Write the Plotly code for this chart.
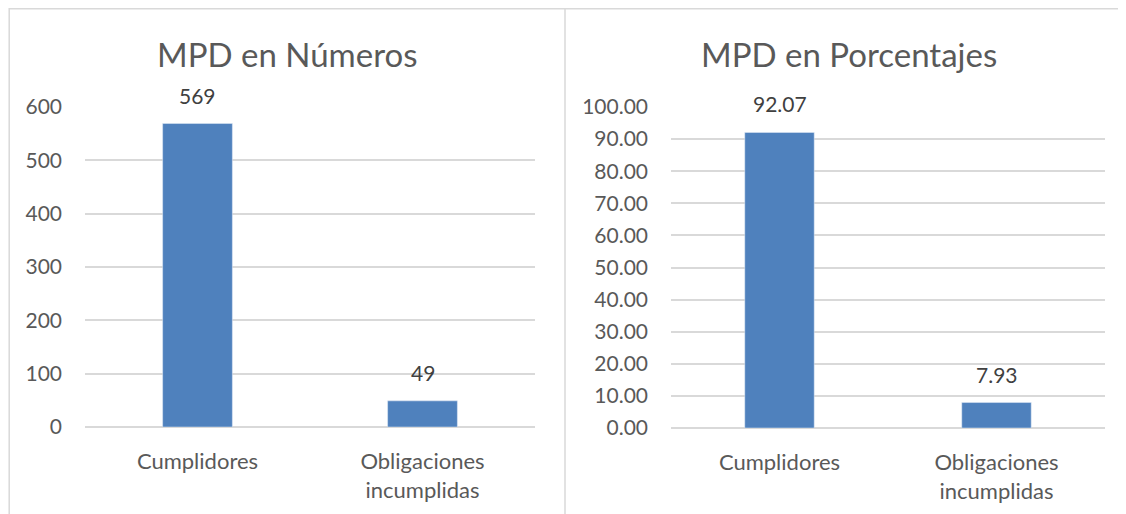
import plotly.graph_objects as go

categories = ["Cumplidores", "Obligaciones<br>incumplidas"]
numeros = [569, 49]
porcentajes = [92.07, 7.93]
num_ticks = [0, 100, 200, 300, 400, 500, 600]
pct_ticks = [0, 10, 20, 30, 40, 50, 60, 70, 80, 90, 100]

# page body adds an 8px margin, so the figure is drawn 8px smaller
OFF = 8
W, H = 1126 - OFF, 514 - OFF
FONT = "Lato, Open Sans, sans-serif"
GREY = "#595959"
DARK = "#404040"
GRID = "#d9d9d9"
BAR = "#4f81bd"


def px(x):
    return (x - OFF) / W


def py(y):
    return 1 - (y - OFF) / H


fig = go.Figure()

fig.add_trace(go.Bar(x=categories, y=numeros, marker_color=BAR, width=0.31,
                     xaxis="x", yaxis="y", showlegend=False, hoverinfo="x+y"))
fig.add_trace(go.Bar(x=categories, y=porcentajes, marker_color=BAR, width=0.32,
                     xaxis="x2", yaxis="y2", showlegend=False, hoverinfo="x+y"))

annotations = []
for c, v in zip(categories, numeros):
    annotations.append(dict(x=c, y=v, xref="x", yref="y", text=str(v),
                            showarrow=False, yanchor="bottom", yshift=14,
                            font=dict(size=21, color=DARK, family=FONT)))
for c, v in zip(categories, porcentajes):
    annotations.append(dict(x=c, y=v, xref="x2", yref="y2", text=f"{v:.2f}",
                            showarrow=False, yanchor="bottom", yshift=14,
                            font=dict(size=21, color=DARK, family=FONT)))

annotations += [
    dict(text="MPD en Números", x=px(287), y=py(54), xref="paper", yref="paper",
         xanchor="center", yanchor="middle", showarrow=False,
         font=dict(size=33, color=GREY, family=FONT)),
    dict(text="MPD en Porcentajes", x=px(849), y=py(54), xref="paper", yref="paper",
         xanchor="center", yanchor="middle", showarrow=False,
         font=dict(size=33, color=GREY, family=FONT)),
]

tick_font = dict(size=21, color=GREY, family=FONT)
cat_font = dict(size=22, color=GREY, family=FONT)

fig.update_layout(
    width=W, height=H,
    margin=dict(l=0, r=0, t=0, b=0, autoexpand=False),
    paper_bgcolor="white", plot_bgcolor="white",
    font=dict(family=FONT, color=GREY),
    xaxis=dict(domain=[px(85), px(535)], anchor="y", showgrid=False, showline=False,
               ticks="", tickfont=cat_font, ticklabelstandoff=19),
    yaxis=dict(domain=[py(427), py(107)], range=[0, 600], tickvals=num_ticks,
               gridcolor=GRID, gridwidth=1.5, zeroline=True, zerolinecolor=GRID,
               zerolinewidth=1.5, anchor="x", ticks="", tickfont=tick_font,
               ticklabelstandoff=22),
    xaxis2=dict(domain=[px(671), px(1105)], anchor="y2", showgrid=False, showline=False,
                ticks="", tickfont=cat_font, ticklabelstandoff=19),
    yaxis2=dict(domain=[py(428), py(107)], range=[0, 100], tickvals=pct_ticks,
                tickformat=".2f", gridcolor=GRID, gridwidth=1.5, zeroline=True,
                zerolinecolor=GRID, zerolinewidth=1.5, anchor="x2", ticks="",
                tickfont=tick_font, ticklabelstandoff=22),
    annotations=annotations,
    shapes=[
        dict(type="line", xref="paper", yref="paper", x0=px(9), x1=1, y0=py(8.8), y1=py(8.8),
             line=dict(color=GRID, width=1.5)),
        dict(type="line", xref="paper", yref="paper", x0=px(9.2), x1=px(9.2), y0=0, y1=py(8),
             line=dict(color=GRID, width=1.5)),
        dict(type="line", xref="paper", yref="paper", x0=px(565), x1=px(565), y0=0, y1=py(8),
             line=dict(color=GRID, width=1.5)),
    ],
)

fig.write_html("out.html")
